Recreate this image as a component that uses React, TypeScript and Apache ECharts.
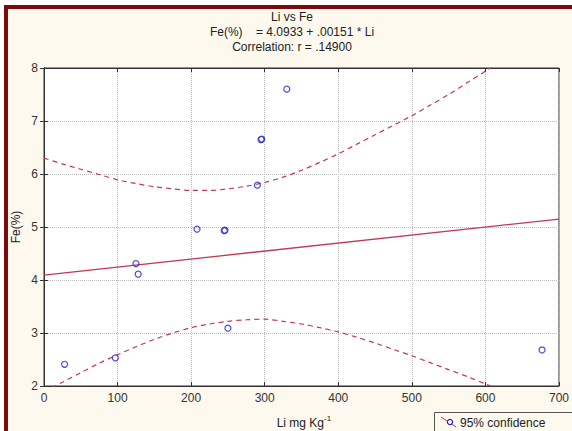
import React, { useEffect, useRef } from "react";
import * as echarts from "echarts";

const titleLines = ["Li vs Fe", "Fe(%)    = 4.0933 + .00151 * Li", "Correlation: r = .14900"];
const xAxisName = "Li mg Kg";
const xAxisSup = "-1";
const yAxisName = "Fe(%)";
const legendLabel = "95% confidence";

const liValues = [28, 97, 125, 128, 208, 245, 246, 250, 290, 295, 296, 330, 677];
const feValues = [2.41, 2.53, 4.31, 4.11, 4.96, 4.93, 4.94, 3.09, 5.79, 6.65, 6.66, 7.6, 2.68];

const fitX = [0, 700];
const fitY = [4.093, 5.150];

const bandX = [0, 25, 50, 75, 100, 125, 150, 175, 200, 225, 250, 275, 300, 325, 350, 375, 400, 425, 450, 475, 500, 525, 550, 575, 600, 625, 650, 675, 700];
const upperBand = [6.30, 6.19, 6.09, 5.99, 5.89, 5.82, 5.76, 5.72, 5.69, 5.69, 5.72, 5.77, 5.84, 5.94, 6.07, 6.22, 6.38, 6.56, 6.74, 6.92, 7.10, 7.30, 7.50, 7.72, 7.94, 8.16, 8.38, 8.59, 8.81];
const lowerBand = [1.88, 2.07, 2.25, 2.43, 2.59, 2.74, 2.88, 3.00, 3.10, 3.17, 3.22, 3.25, 3.26, 3.22, 3.17, 3.10, 3.02, 2.92, 2.81, 2.69, 2.57, 2.44, 2.31, 2.18, 2.04, 1.90, 1.76, 1.62, 1.48];

const xMin = 0, xMax = 700, xStep = 100;
const yMin = 2, yMax = 8, yStep = 1;

const FONT = "'Liberation Sans', Arial, sans-serif";
const RED = "#c23a52";
const BLUE = "#1f1fc8";

export default function App() {
  const ref = useRef<HTMLDivElement>(null);
  useEffect(() => {
    if (!ref.current) return;
    const chart = echarts.init(ref.current, null, { renderer: "svg" });
    const zip = (a: number[], b: number[]) => a.map((v, i) => [v, b[i]]);
    const axisCommon = {
      axisLine: { show: true, lineStyle: { color: "#333", width: 1 } },
      axisTick: { show: true, inside: true, length: 4, lineStyle: { color: "#333" } },
    };
    chart.setOption({
      animation: false,
      backgroundColor: "transparent",
      grid: {
        left: 44, right: 11, top: 68, bottom: 45,
        show: true, backgroundColor: "#ffffff", borderColor: "#333", borderWidth: 1,
      },
      xAxis: [
        {
          type: "value", min: xMin, max: xMax, interval: xStep, position: "bottom",
          ...axisCommon,
          axisLabel: { color: "#333", fontFamily: FONT, fontSize: 12, margin: 6 },
          splitLine: { show: true, lineStyle: { color: "#bdbdbd", type: "dotted", width: 1 } },
        },
        {
          type: "value", min: xMin, max: xMax, interval: xStep, position: "top",
          ...axisCommon, axisLabel: { show: false }, splitLine: { show: false },
        },
      ],
      yAxis: [
        {
          type: "value", min: yMin, max: yMax, interval: yStep, position: "left",
          ...axisCommon,
          axisLabel: { color: "#333", fontFamily: FONT, fontSize: 12, margin: 6 },
          splitLine: { show: true, lineStyle: { color: "#bdbdbd", type: "dotted", width: 1 } },
        },
        {
          type: "value", min: yMin, max: yMax, interval: yStep, position: "right",
          ...axisCommon, axisLabel: { show: false }, splitLine: { show: false },
        },
      ],
      series: [
        {
          type: "line", data: zip(fitX, fitY), showSymbol: false, symbol: "none",
          lineStyle: { color: RED, width: 1.3 }, z: 2,
        },
        {
          type: "line", data: zip(bandX, upperBand), smooth: 0.3, showSymbol: false, symbol: "none",
          lineStyle: { color: RED, width: 1.2, type: [5, 4] }, z: 2,
        },
        {
          type: "line", data: zip(bandX, lowerBand), smooth: 0.3, showSymbol: false, symbol: "none",
          lineStyle: { color: RED, width: 1.2, type: [5, 4] }, z: 2,
        },
        {
          type: "scatter", data: zip(liValues, feValues), symbol: "circle", symbolSize: 6,
          itemStyle: { color: "rgba(0,0,0,0)", borderColor: BLUE, borderWidth: 1.2 }, z: 3,
        },
      ],
      graphic: [
        { type: "rect", shape: { x: 4, y: 5, width: 568, height: 426 }, style: { fill: "#fdf9ee" }, z: -10 },
        { type: "rect", shape: { x: 4, y: 5, width: 568, height: 4 }, style: { fill: "#7d0a0a" }, z: -9 },
        { type: "rect", shape: { x: 4, y: 5, width: 4, height: 426 }, style: { fill: "#7d0a0a" }, z: -9 },
        ...titleLines.map((t, i) => ({
          type: "text", x: 292, y: 17 + i * 15,
          style: { text: t, fill: "#222", font: `12px ${FONT}`, textAlign: "center", textVerticalAlign: "middle" },
        })),
        {
          type: "text", x: 16, y: 227, rotation: Math.PI / 2,
          style: { text: yAxisName, fill: "#222", font: `12px ${FONT}`, textAlign: "center", textVerticalAlign: "middle" },
        },
        {
          type: "text", x: 324, y: 423,
          style: { text: xAxisName, fill: "#222", font: `12px ${FONT}`, textAlign: "right", textVerticalAlign: "middle" },
        },
        {
          type: "text", x: 324, y: 418,
          style: { text: xAxisSup, fill: "#222", font: `8px ${FONT}`, textAlign: "left", textVerticalAlign: "middle" },
        },
        { type: "rect", shape: { x: 434.5, y: 412.5, width: 140, height: 25 }, style: { fill: "#fdf9ee", stroke: "#555", lineWidth: 1 } },
        { type: "line", shape: { x1: 441, y1: 417, x2: 456, y2: 427 }, style: { stroke: RED, lineWidth: 1 } },
        { type: "circle", shape: { cx: 450, cy: 422, r: 2.6 }, style: { fill: "#fdf9ee", stroke: BLUE, lineWidth: 1.2 } },
        {
          type: "text", x: 460, y: 423,
          style: { text: legendLabel, fill: "#222", font: `12px ${FONT}`, textAlign: "left", textVerticalAlign: "middle" },
        },
      ],
    });
    return () => chart.dispose();
  }, []);
  return <div ref={ref} style={{ position: "fixed", left: 0, top: 0, width: 572, height: 431, background: "#ffffff" }} />;
}
